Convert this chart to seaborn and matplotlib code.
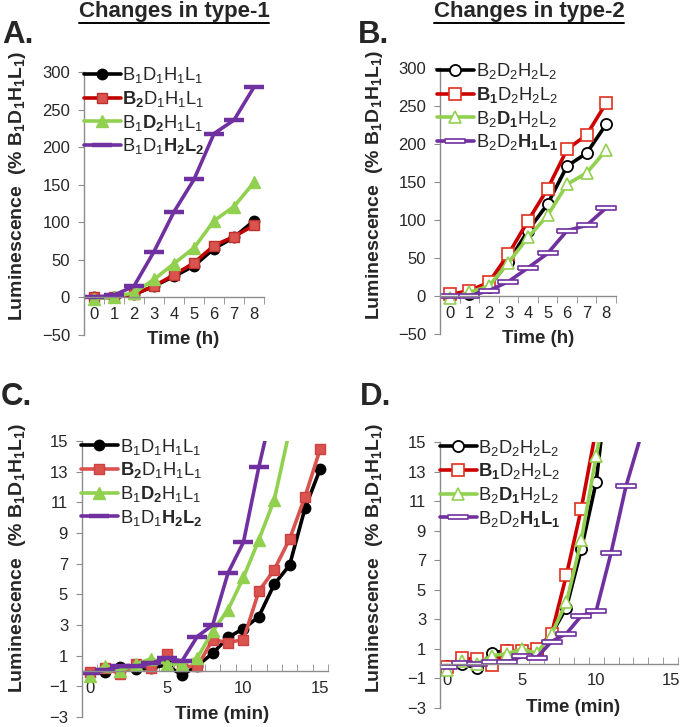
import numpy as np
import pandas as pd
import matplotlib
matplotlib.use("Agg")
import matplotlib.pyplot as plt
from matplotlib.lines import Line2D
import seaborn as sns

# --- Data ---
hours = [0, 1, 2, 3, 4, 5, 6, 7, 8]
minutes = list(range(16))

# A. changes in type-1 (% of B1D1H1L1), hourly
a_b1d1h1l1 = [0, 0, 4, 15, 28, 42, 65, 80, 102]
a_b2d1h1l1 = [0, 0, 4, 15, 30, 46, 69, 81, 96]
a_b1d2h1l1 = [-2, 1, 6, 24, 45, 66, 102, 121, 153]
a_b1d1h2l2 = [0, 3, 15, 61, 114, 157, 218, 236, 280]

# B. changes in type-2, hourly
b_b2d2h2l2 = [0, 2, 12, 45, 86, 121, 171, 188, 226]
b_b1d2h2l2 = [2, 7, 18, 55, 99, 141, 193, 212, 254]
b_b2d1h2l2 = [-3, 5, 13, 44, 77, 106, 147, 162, 192]
b_b2d2h1l1 = [0, 0, 7, 19, 37, 56, 86, 93, 116]

# C. type-1, per minute (series stop once they leave the 15 % window)
c_b1d1h1l1 = [-0.1, -0.05, 0.25, 0.1, 0.2, 0.4, -0.28, 0.35, 1.15, 2.2, 2.75, 3.55, 5.65, 6.9, 10.6, 13.2]
c_b2d1h1l1 = [-0.05, 0.2, -0.2, 0.45, 0.2, 1.1, 0.3, 0.3, 2.05, 1.85, 2.05, 5.2, 6.6, 8.6, 11.35, 14.5]
c_b1d2h1l1 = [-0.3, 0.35, 0.0, 0.45, 0.8, 0.45, 0.45, 0.85, 2.6, 4.0, 6.1, 8.55, 11.15, 15.7]
c_b1d1h2l2 = [-0.15, 0.05, 0.3, 0.3, 0.5, 0.85, 0.65, 2.25, 3.0, 6.4, 8.4, 13.3, 17.6]

# D. type-2, per minute
d_b2d2h2l2 = [-0.15, -0.05, -0.28, 0.72, 0.9, 0.85, 0.75, 2.0, 3.8, 7.75, 12.3, 21.0]
d_b1d2h2l2 = [-0.2, 0.35, 0.3, -0.1, 0.88, 0.85, 0.98, 2.03, 6.0, 10.5, 15.9]
d_b2d1h2l2 = [-0.45, 0.15, 0.0, 0.55, 0.67, 1.0, 0.7, 2.0, 4.15, 8.35, 14.05, 19.3]
d_b2d2h1l1 = [-0.25, 0.05, -0.05, 0.1, 0.08, 0.5, 0.4, 1.5, 2.03, 3.24, 3.57, 7.5, 12.0, 15.4]

labels_type1 = [r"$\mathrm{B_1D_1H_1L_1}$", r"$\mathbf{B_2}\mathrm{D_1H_1L_1}$",
                r"$\mathrm{B_1}\mathbf{D_2}\mathrm{H_1L_1}$", r"$\mathrm{B_1D_1}\mathbf{H_2L_2}$"]
labels_type2 = [r"$\mathrm{B_2D_2H_2L_2}$", r"$\mathbf{B_1}\mathrm{D_2H_2L_2}$",
                r"$\mathrm{B_2}\mathbf{D_1}\mathrm{H_2L_2}$", r"$\mathrm{B_2D_2}\mathbf{H_1L_1}$"]

# --- Style ---
sns.set_style("ticks")
plt.rcParams['font.family'] = ['Liberation Sans', 'DejaVu Sans']
plt.rcParams['mathtext.fontset'] = 'custom'
plt.rcParams['mathtext.rm'] = 'Liberation Sans'
plt.rcParams['mathtext.bf'] = 'Liberation Sans:bold'
plt.rcParams['mathtext.it'] = 'Liberation Sans:italic'
plt.rcParams['mathtext.sf'] = 'Liberation Sans'

BLACK = "#000000"
GREEN = "#92d050"
PURPLE = "#7030a0"
AXIS_GRAY = "#8c8c8c"
YLABEL = r"Luminescence  (% $\mathbf{B_1D_1H_1L_1}$)"

# open "dash" marker for the type-2 purple series
open_dash = [(-1, -0.22), (1, -0.22), (1, 0.22), (-1, 0.22), (-1, -0.22)]


def px_axes(left, top, right, bottom):
    W, H = 680, 727
    return [left / W, (H - bottom) / H, (right - left) / W, (bottom - top) / H]


fig = plt.figure(figsize=(6.8, 7.27), dpi=100)
ax_a = fig.add_axes(px_axes(84, 72, 264, 335))
ax_b = fig.add_axes(px_axes(440, 68, 616, 334))
ax_c = fig.add_axes(px_axes(82, 441, 328, 717))
ax_d = fig.add_axes(px_axes(440, 442, 678, 708))


def draw(ax, x, y, label, color, **kw):
    sns.lineplot(x=x[:len(y)], y=y, ax=ax, color=color, linewidth=2.6,
                 label=label, sort=False, **kw)


# A
filled = [
    (a_b1d1h1l1, BLACK, dict(marker="o", markersize=7.5, markerfacecolor=BLACK, markeredgecolor=BLACK, markeredgewidth=1)),
    (a_b2d1h1l1, "#c00000", dict(marker="s", markersize=7.8, markerfacecolor="#d9534f", markeredgecolor="#c0302b", markeredgewidth=1)),
    (a_b1d2h1l1, GREEN, dict(marker="^", markersize=8.5, markerfacecolor=GREEN, markeredgecolor=GREEN, markeredgewidth=1)),
    (a_b1d1h2l2, PURPLE, dict(marker="_", markersize=14, markeredgecolor=PURPLE, markeredgewidth=3.2)),
]
for (vals, col, mk), lab in zip(filled, labels_type1):
    draw(ax_a, hours, vals, lab, col, **mk)

# B
opened = [
    (b_b2d2h2l2, BLACK, dict(marker="o", markersize=8, markerfacecolor="white", markeredgecolor=BLACK, markeredgewidth=1.3)),
    (b_b1d2h2l2, "#cc0000", dict(marker="s", markersize=8, markerfacecolor="white", markeredgecolor="#e0301e", markeredgewidth=1.2)),
    (b_b2d1h2l2, GREEN, dict(marker="^", markersize=9, markerfacecolor="white", markeredgecolor=GREEN, markeredgewidth=1.2)),
    (b_b2d2h1l1, PURPLE, dict(marker=open_dash, markersize=14, markerfacecolor="white", markeredgecolor=PURPLE, markeredgewidth=1.2)),
]
for (vals, col, mk), lab in zip(opened, labels_type2):
    draw(ax_b, hours, vals, lab, col, **mk)

# C
filled_c = [
    (c_b1d1h1l1, BLACK, dict(marker="o", markersize=7.5, markerfacecolor=BLACK, markeredgecolor=BLACK, markeredgewidth=1)),
    (c_b2d1h1l1, "#d9534f", dict(marker="s", markersize=7.8, markerfacecolor="#d9534f", markeredgecolor="#d04040", markeredgewidth=1)),
    (c_b1d2h1l1, GREEN, dict(marker="^", markersize=8.5, markerfacecolor=GREEN, markeredgecolor=GREEN, markeredgewidth=1)),
    (c_b1d1h2l2, PURPLE, dict(marker="_", markersize=14, markeredgecolor=PURPLE, markeredgewidth=3.2)),
]
for (vals, col, mk), lab in zip(filled_c, labels_type1):
    draw(ax_c, minutes, vals, lab, col, **mk)

# D
opened_d = [
    (d_b2d2h2l2, BLACK, dict(marker="o", markersize=8, markerfacecolor="white", markeredgecolor=BLACK, markeredgewidth=1.3)),
    (d_b1d2h2l2, "#cc0000", dict(marker="s", markersize=8, markerfacecolor="white", markeredgecolor="#e0301e", markeredgewidth=1.2)),
    (d_b2d1h2l2, GREEN, dict(marker="^", markersize=9, markerfacecolor="white", markeredgecolor=GREEN, markeredgewidth=1.2)),
    (d_b2d2h1l1, PURPLE, dict(marker=open_dash, markersize=14, markerfacecolor="white", markeredgecolor=PURPLE, markeredgewidth=1.2)),
]
for (vals, col, mk), lab in zip(opened_d, labels_type2):
    draw(ax_d, minutes, vals, lab, col, **mk)


def style_axes(ax, hourly):
    for side in ("top", "right"):
        ax.spines[side].set_visible(False)
    ax.spines["bottom"].set_position(("data", 0))
    for side in ("left", "bottom"):
        ax.spines[side].set_color(AXIS_GRAY)
        ax.spines[side].set_linewidth(1.0)
    if hourly:
        ax.set_xlim(-0.5, 8.5)
        ax.set_ylim(-50, 300)
        ax.set_yticks(np.arange(-50, 301, 50))
        ax.set_xticks(hours)
        ax.set_xticks(np.arange(-0.5, 9, 1), minor=True)
        ax.tick_params(axis="x", which="minor", direction="out", length=5, color=AXIS_GRAY)
        ax.set_xlabel("Time (h)", fontsize=13.5, fontweight="bold")
    else:
        ax.set_xlim(-0.5, 15.5)
        ax.set_ylim(-3, 15)
        ax.set_yticks(np.arange(-3, 16, 2))
        ax.set_xticks([0, 5, 10, 15])
        ax.set_xticks(np.arange(-0.5, 16, 1), minor=True)
        ax.tick_params(axis="x", which="minor", direction="in", length=5, color=AXIS_GRAY)
        ax.set_xlabel("Time (min)", fontsize=13.5, fontweight="bold")
    ax.tick_params(axis="x", which="major", length=0, pad=7, labelsize=12)
    ax.tick_params(axis="y", which="major", direction="out", length=4, color=AXIS_GRAY,
                   pad=6, labelsize=12)
    ax.tick_params(axis="y", which="minor", left=False)
    ax.set_ylabel(YLABEL, fontsize=14, fontweight="bold")


style_axes(ax_a, True)
style_axes(ax_b, True)
style_axes(ax_c, False)
style_axes(ax_d, False)

# label placement (axes coords)
ax_a.xaxis.set_label_coords(0.55, 0.015)
ax_b.xaxis.set_label_coords(0.557, 0.015)
ax_c.xaxis.set_label_coords(0.57, 0.04)
ax_d.xaxis.set_label_coords(0.56, 0.035)
ax_a.yaxis.set_label_coords(-0.31, 0.567)
ax_b.yaxis.set_label_coords(-0.31, 0.562)
ax_c.yaxis.set_label_coords(-0.22, 0.578)
ax_d.yaxis.set_label_coords(-0.23, 0.564)

legend_kw = dict(loc="upper left", frameon=False, fontsize=13.2, handlelength=2.0,
                 handletextpad=0.1, borderpad=0, borderaxespad=0, labelspacing=0.2)
ax_a.legend(bbox_to_anchor=(0.0, 1.025), **legend_kw)
ax_b.legend(bbox_to_anchor=(-0.017, 1.025), **legend_kw)
ax_c.legend(bbox_to_anchor=(-0.004, 1.016), **legend_kw)
ax_d.legend(bbox_to_anchor=(0.0, 1.016), **legend_kw)

# titles and panel letters
t1 = fig.text(174 / 680, 1 - 11 / 727, "Changes in type-1", ha="center", va="center",
              fontsize=16, fontweight="bold")
t2 = fig.text(529 / 680, 1 - 11 / 727, "Changes in type-2", ha="center", va="center",
              fontsize=16, fontweight="bold")
for letter, (px, py) in zip("ABCD", [(2, 20), (358, 20), (1, 382), (360, 382)]):
    fig.text(px / 680, 1 - py / 727, letter + ".", ha="left", va="top",
             fontsize=22.5, fontweight="bold")

# underline the column titles
fig.canvas.draw()
for t in (t1, t2):
    bb = t.get_window_extent()
    y = (bb.y0 - 1) / fig.bbox.height
    fig.add_artist(Line2D([bb.x0 / fig.bbox.width, bb.x1 / fig.bbox.width], [y, y],
                          color="black", linewidth=1.4))

fig.savefig("out.png", dpi=100)
